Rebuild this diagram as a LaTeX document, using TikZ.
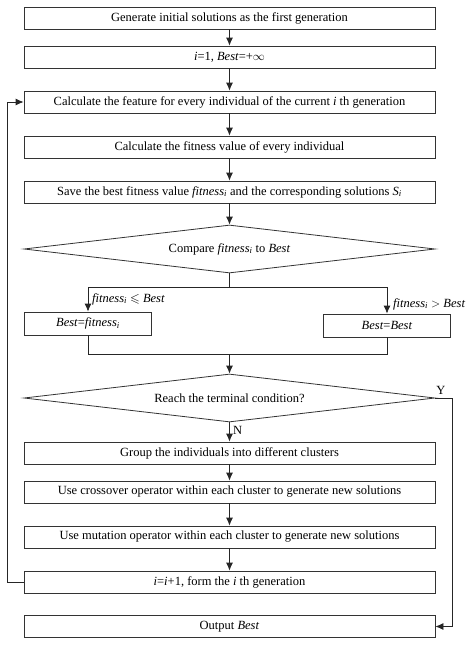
\documentclass[tikz,border=0pt]{standalone}
\usepackage{amssymb}
\usepackage{fontspec}
\setmainfont{Liberation Serif}
\usetikzlibrary{arrows.meta,shapes.geometric}
\tikzset{
  stepbox/.style={draw=black!80,line width=0.8pt,minimum width=411pt,minimum height=22pt,inner sep=0pt},
  smallbox/.style={stepbox,minimum width=127pt,minimum height=23pt},
  decide/.style={draw=black!80,line width=0.8pt,diamond,aspect=8,inner sep=0pt,minimum width=411pt,minimum height=48pt},
  arr/.style={-{Latex[length=8pt,width=7pt]},line width=0.8pt,draw=black!85},
  ln/.style={line width=0.8pt,draw=black!85}
}
\newcommand{\fit}{\textit{fitness}\textsubscript{\textit{i}}}
\begin{document}
\begin{tikzpicture}[x=1pt,y=-1pt,font=\fontsize{12.5}{14}\selectfont]
  \useasboundingbox (0,0) rectangle (474,648);
  \node[stepbox] (gen) at (229.5,18) {Generate initial solutions as the first generation};
  \node[stepbox] (init) at (229.5,57) {\textit{i}=1, \textit{Best}=+$\infty$};
  \node[stepbox] (feat) at (229.5,102) {Calculate the feature for every individual of the current \textit{i} th generation};
  \node[stepbox] (fitv) at (229.5,147) {Calculate the fitness value of every individual};
  \node[stepbox] (save) at (229.5,192) {Save the best fitness value \fit{} and the corresponding solutions \textit{S}\textsubscript{\textit{i}}};
  \node[decide] (cmp) at (229.5,249) {Compare \fit{} to \textit{Best}};
  \node[smallbox] (lbox) at (88,323.5) {\textit{Best}=\fit};
  \node[smallbox] (rbox) at (387,325.5) {\textit{Best}=\textit{Best}};
  \node[decide] (term) at (229.5,398) {Reach the terminal condition?};
  \node[stepbox] (grp) at (229.5,453) {Group the individuals into different clusters};
  \node[stepbox] (cross) at (229.5,492) {Use crossover operator within each cluster to generate new solutions};
  \node[stepbox] (mut) at (229.5,537) {Use mutation operator within each cluster to generate new solutions};
  \node[stepbox] (next) at (229.5,582) {\textit{i}=\textit{i}+1, form the \textit{i} th generation};
  \node[stepbox] (out) at (229.5,626.5) {Output \textit{Best}};
  \coordinate (split) at (229.5,287);
  \coordinate (join) at (229.5,354);
  \coordinate (back) at (7,582);
  \coordinate (yes) at (452,398);
  \draw[arr] (gen) -- (init);
  \draw[arr] (init) -- (feat);
  \draw[arr] (feat) -- (fitv);
  \draw[arr] (fitv) -- (save);
  \draw[arr] (save) -- (cmp);
  \draw[ln] (cmp.south) -- (split);
  \draw[arr] (split) -| (lbox.north);
  \draw[arr] (split) -| (rbox.north);
  \draw[ln] (lbox.south) |- (join);
  \draw[ln] (rbox.south) |- (join);
  \draw[arr] (join) -- (term.north);
  \draw[arr] (term.south) -- node[right,pos=0.4] {N} (grp);
  \draw[arr] (grp) -- (cross);
  \draw[arr] (cross) -- (mut);
  \draw[arr] (mut) -- (next);
  \draw[arr] (next.west) -- (back) |- (feat.west);
  \draw[arr] (term.east) -- (yes) |- (out.east);
  \node at (441,390) {Y};
  \node[anchor=west,inner sep=1pt] at (91,299) {\fit{} $\leqslant$ \textit{Best}};
  \node[anchor=west,inner sep=1pt] at (392,304) {\fit{} $>$ \textit{Best}};
\end{tikzpicture}
\end{document}
